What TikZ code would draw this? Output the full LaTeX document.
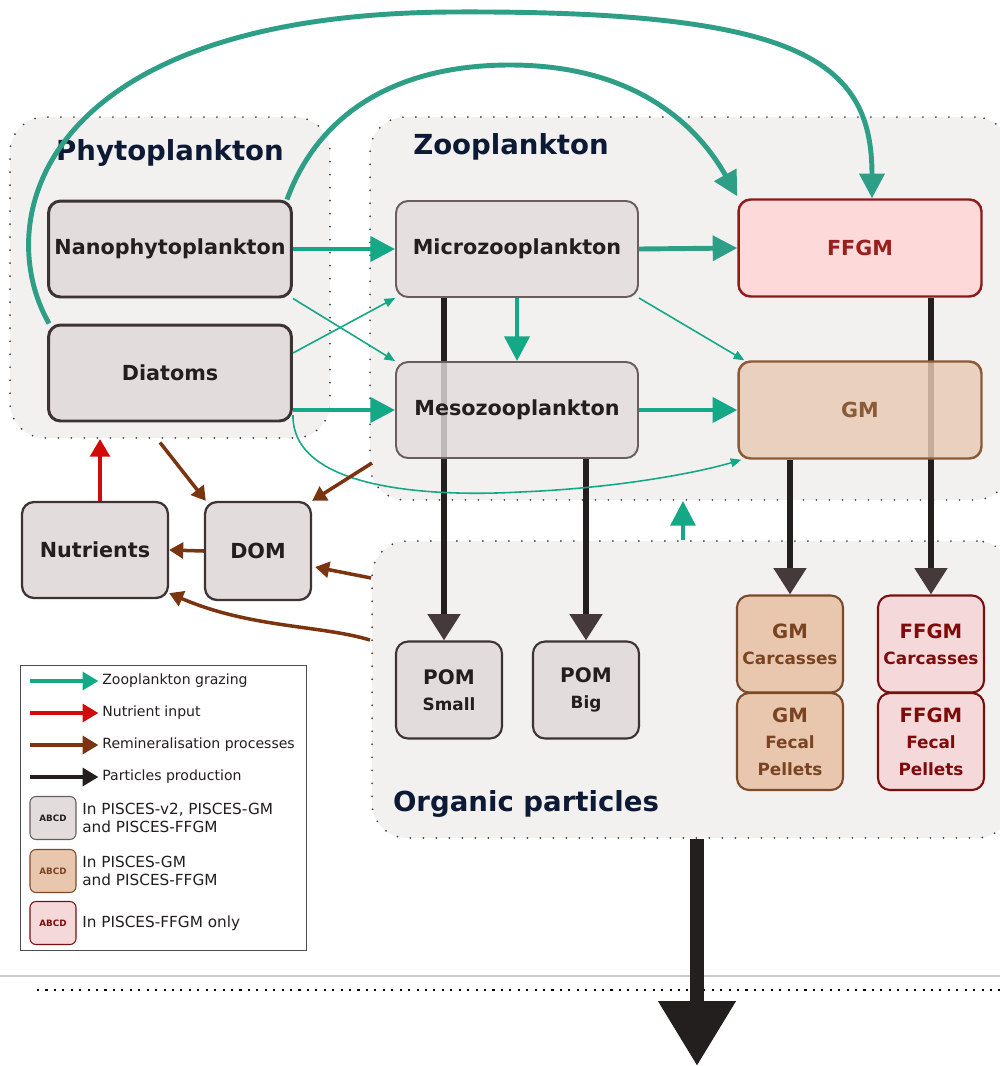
\documentclass[tikz,border=0pt]{standalone}
\usepackage{fontspec}
\setmainfont{DejaVu Sans}
\usetikzlibrary{arrows.meta, positioning}
\definecolor{grpfill}{HTML}{F2F1F0}
\definecolor{navytitle}{HTML}{0C1A35}
\definecolor{boxgrey}{HTML}{E3DCDC}
\definecolor{lineblack}{HTML}{3E3333}
\definecolor{zooline}{HTML}{6A5D5D}
\definecolor{ffgmfill}{HTML}{FDD9D9}
\definecolor{ffgmline}{HTML}{8E1B1B}
\definecolor{ffgmtext}{HTML}{9A2020}
\definecolor{gmfill}{HTML}{E9CBB5}
\definecolor{gmline}{HTML}{8B5A37}
\definecolor{gmtext}{HTML}{8B5A37}
\definecolor{carcfill}{HTML}{E8C7AE}
\definecolor{carcline}{HTML}{7A4A2A}
\definecolor{carctext}{HTML}{7A4422}
\definecolor{ffcfill}{HTML}{F5D9DA}
\definecolor{ffcline}{HTML}{7A0F0F}
\definecolor{ffctext}{HTML}{7F0A0A}
\definecolor{grazeclr}{HTML}{14A886}
\definecolor{arcclr}{HTML}{2E9F86}
\definecolor{reminclr}{HTML}{7A3510}
\definecolor{nutrclr}{HTML}{D10A0A}
\definecolor{partclr}{HTML}{231F1E}
\definecolor{parthead}{HTML}{463939}
\pgfdeclarelayer{groups}
\pgfdeclarelayer{partlines}
\pgfsetlayers{groups,partlines,main}
\tikzset{
	grp/.style={
			draw=black!75,
			fill=grpfill,
			rounded corners=0.7cm,
			line width=1.1pt,
			line cap=round,
			dash pattern=on 0pt off 7.4pt,
			inner sep=0pt
		},
	grptitle/.style={
			text=navytitle,
			font=\bfseries\fontsize{15.7}{18}\selectfont
		},
	basebox/.style={
			rounded corners=0.24cm,
			inner sep=0pt,
			align=center,
			font=\bfseries\fontsize{11.8}{14}\selectfont
		},
	phybox/.style={
			basebox,
			draw=lineblack,
			fill=boxgrey,
			line width=1.7pt,
			minimum width=4.86cm,
			minimum height=1.92cm,
			text=partclr
		},
	zoobox/.style={
			basebox,
			draw=zooline,
			fill=boxgrey,
			fill opacity=0.82,
			text opacity=1,
			line width=1.1pt,
			minimum width=4.84cm,
			minimum height=1.92cm,
			text=partclr
		},
	ffgmbox/.style={
			basebox,
			draw=ffgmline,
			fill=ffgmfill,
			line width=1.4pt,
			minimum width=4.86cm,
			minimum height=1.94cm,
			text=ffgmtext
		},
	gmbox/.style={
			basebox,
			draw=gmline,
			fill=gmfill,
			fill opacity=0.82,
			text opacity=1,
			line width=1.4pt,
			minimum width=4.86cm,
			minimum height=1.94cm,
			text=gmtext
		},
	smallbox/.style={
			basebox,
			draw=lineblack,
			fill=boxgrey,
			line width=1.2pt,
			minimum width=2.12cm,
			minimum height=1.94cm,
			text=partclr,
			font=\bfseries\fontsize{9.6}{15}\selectfont
		},
	carcbox/.style={
			smallbox,
			draw=carcline,
			fill=carcfill,
			text=carctext
		},
	ffcbox/.style={
			smallbox,
			draw=ffcline,
			fill=ffcfill,
			text=ffctext
		},
	graze/.style={
			grazeclr,
			line width=2.8pt,
			-{Triangle[length=14pt,width=14pt]}
		},
	grazethin/.style={
			grazeclr,
			line width=0.9pt,
			-{Triangle[length=6pt,width=5pt]}
		},
	grazearc/.style={
			arcclr,
			line width=2.8pt,
			-{Triangle[length=14pt,width=14pt]}
		},
	remin/.style={
			reminclr,
			line width=2pt,
			-{Triangle[length=8pt,width=9pt]}
		},
	nutrin/.style={
			nutrclr,
			line width=2.3pt,
			-{Triangle[length=10pt,width=11pt]}
		},
	partprod/.style={
			partclr,
			line width=3.4pt,
			-{Triangle[length=15pt,width=18pt,color=parthead]}
		},
	legbox/.style={
			draw=black!70,
			fill=white,
			line width=0.5pt,
			inner sep=0pt
		},
	legtext/.style={
			anchor=west,
			align=left,
			inner sep=0pt,
			text=partclr,
			font=\fontsize{8}{10}\selectfont
		},
	swtext/.style={
			legtext,
			font=\fontsize{8.7}{10.2}\selectfont
		},
	legarrow/.style={
			line width=2.3pt,
			shorten >=2pt,
			-{Triangle[length=9pt,width=10pt]}
		},
	swatch/.style={
			rounded corners=0.12cm,
			line width=0.6pt,
			minimum width=0.92cm,
			minimum height=0.86cm,
			inner sep=0pt,
			font=\bfseries\fontsize{5}{6}\selectfont
		}
}

\begin{document}
\begin{tikzpicture}[x=0.02cm, y=-0.02cm]
\clip (0,0) rectangle (1000,1066);

\begin{pgfonlayer}{groups}
\fill[white] (0,0) rectangle (1000,1066);
\node[grp, minimum width=6.4cm, minimum height=6.42cm] (phygrp) at (170,277.5) {};
\node[grp, minimum width=12.8cm, minimum height=7.66cm] (zoogrp) at (690,308.5) {};
\node[grp, minimum width=12.8cm, minimum height=5.94cm] (orggrp) at (692,689.5) {};
\end{pgfonlayer}

\node[grptitle] (phytitle) at (170,153) {Phytoplankton};
\node[grptitle] (zootitle) at (511,147) {Zooplankton};
\node[grptitle] (orgtitle) at (526,804) {Organic particles};

\node[phybox] (nano) at (170,249) {Nanophytoplankton};
\node[phybox] (diat) at (170,373) {Diatoms};
\node[zoobox] (micro) at (517,249) {Microzooplankton};
\node[zoobox] (meso) at (517,410) {Mesozooplankton};
\node[ffgmbox] (ffgm) at (860,248) {FFGM};
\node[gmbox] (gm) at (860,410) {GM};

\node[phybox, line width=1.3pt, minimum width=2.92cm] (nutr) at (95,550) {Nutrients};
\node[phybox, line width=1.3pt, minimum width=2.12cm, minimum height=1.96cm] (dom) at (258,551) {DOM};

\node[smallbox] (poms) at (449,690) {{\fontsize{11.4}{15}\selectfont POM}\\Small};
\node[smallbox] (pomb) at (586,690) {{\fontsize{11.4}{15}\selectfont POM}\\Big};
\node[carcbox] (gmcarc) at (790,644) {{\fontsize{11.2}{15}\selectfont GM}\\Carcasses};
\node[carcbox] (gmfec) at (790,741.5) {{\fontsize{11.2}{15}\selectfont GM}\\Fecal\\Pellets};
\node[ffcbox] (ffcarc) at (931,644) {{\fontsize{11.2}{15}\selectfont FFGM}\\Carcasses};
\node[ffcbox] (fffec) at (931,741.5) {{\fontsize{11.2}{15}\selectfont FFGM}\\Fecal\\Pellets};

\coordinate (sink) at (697,1066);
\coordinate (upflux) at (683,0);
\coordinate (zooout) at (372,463);
\coordinate (orgout) at (370,640);

\begin{pgfonlayer}{partlines}
\draw[partprod] ([xshift=-0.1cm]poms.north |- micro.south) -- ([xshift=-0.1cm]poms.north);
\draw[partprod] (pomb.north |- meso.south) -- (pomb.north);
\draw[partprod] (gmcarc.north |- gm.south) -- (gmcarc.north);
\draw[partprod] (ffcarc.north |- ffgm.south) -- (ffcarc.north);
\end{pgfonlayer}

\draw[graze] (nano.east) -- (micro.west);
\draw[grazearc] (micro.east) -- (ffgm.west);
\draw[graze] (micro.south) -- (meso.north);
\draw[graze] (diat.east |- meso.west) -- (meso.west);
\draw[graze] (meso.east) -- (gm.west);
\draw[grazethin] (nano.south east) -- (meso.north west);
\draw[grazethin] ([yshift=0.4cm]diat.east) -- (micro.south west);
\draw[grazethin] (micro.south east) -- ([xshift=0.14cm]gm.north west);
\draw[grazethin] ([yshift=-0.84cm]diat.east) .. controls (292,495) and (450,496) .. (520,492) .. controls (620,488) and (700,472) .. ([xshift=0.08cm]gm.south west);
\draw[grazearc] ([xshift=0.04cm]diat.north west) .. controls (-10,220) and (40,15) .. (450,12) .. controls (800,10) and (872,60) .. ([xshift=0.24cm]ffgm.north);
\draw[grazearc] ([xshift=-0.12cm]nano.north east) .. controls (320,110) and (400,65) .. (510,65) .. controls (640,65) and (700,130) .. ([yshift=0.04cm]ffgm.north west);
\draw[graze, line width=2.3pt] (orggrp.north -| upflux) -- (zoogrp.south -| upflux);

\draw[nutrin] ([xshift=0.1cm]nutr.north) -- ([xshift=0.1cm]nutr.north |- phygrp.south);
\draw[remin] (diat.south) ++(-10,20) -- ([xshift=0.04cm]dom.north west);
\draw[remin] (zooout) -- (dom.north east);
\draw[remin] (orggrp.west |- 0,578) -- ([yshift=-0.32cm,xshift=0.06cm]dom.east);
\draw[remin] (dom.west) -- (nutr.east);
\draw[remin] (orgout) .. controls (320,625) and (250,628) .. ([yshift=0.12cm]nutr.south east);

\draw[black!20, line width=0.6pt] (0,976) -- (1000,976);
\draw[black, line width=1.2pt, dash pattern=on 1.2pt off 3.6pt] (37,990) -- (1000,990);
\draw[partclr, line width=8.5pt, -{Triangle[length=37pt,width=42pt]}] (sink |- orggrp.south) -- (sink);

\node[legbox, minimum width=5.72cm, minimum height=5.7cm] (legend) at (163,807.5) {};
\coordinate (lg1) at (30,681);
\coordinate (lg2) at (30,713);
\coordinate (lg3) at (30,745);
\coordinate (lg4) at (30,777);
\node[legtext] (lt1) at (102,681) {Zooplankton grazing};
\node[legtext] (lt2) at (102,713) {Nutrient input};
\node[legtext] (lt3) at (102,745) {Remineralisation processes};
\node[legtext] (lt4) at (102,777) {Particles production};
\draw[legarrow, grazeclr] (lg1) -- (lt1.west);
\draw[legarrow, nutrclr] (lg2) -- (lt2.west);
\draw[legarrow, reminclr] (lg3) -- (lt3.west);
\draw[legarrow, partclr] (lg4) -- (lt4.west);
\node[swatch, draw=zooline, fill=boxgrey, text=partclr] (sw1) at (53,818) {ABCD};
\node[swatch, draw=carcline, fill=carcfill, text=carctext] (sw2) at (53,871) {ABCD};
\node[swatch, draw=ffcline, fill=ffcfill, text=ffctext] (sw3) at (53,923) {ABCD};
\node[swtext] (st1) at (82,818) {In PISCES-v2, PISCES-GM\\and PISCES-FFGM};
\node[swtext] (st2) at (82,871) {In PISCES-GM\\and PISCES-FFGM};
\node[swtext] (st3) at (82,923) {In PISCES-FFGM only};
\end{tikzpicture}
\end{document}
